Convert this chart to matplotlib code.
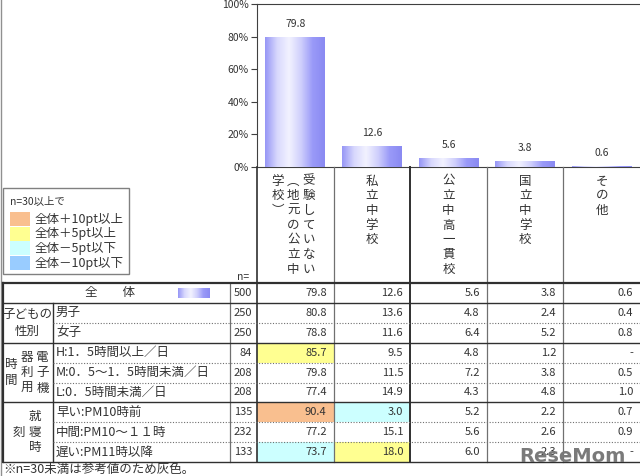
import matplotlib
matplotlib.use('Agg')
import matplotlib.pyplot as plt
import numpy as np
from matplotlib.patches import Rectangle
from matplotlib.colors import LinearSegmentedColormap

plt.rcParams['font.family'] = ['Noto Sans CJK JP', 'DejaVu Sans']

# --- data ---
categories = ['受験していない（地元の公立中学校）', '私立中学校', '公立中高一貫校', '国立中学校', 'その他']
# header text, written in vertical columns from right to left
header_cols = [['受験していない', '︵地元の公立中', '学校︶'],
               ['私立中学校'], ['公立中高一貫校'], ['国立中学校'], ['その他']]
overall_n = 500
overall = [79.8, 12.6, 5.6, 3.8, 0.6]

row_labels = ['男子', '女子',
              'H:1．5時間以上／日', 'M:0．5～1．5時間未満／日', 'L:0．5時間未満／日',
              '早い:PM10時前', '中間:PM10～１１時', '遅い:PM11時以降']
row_n = [250, 250, 84, 208, 208, 135, 232, 133]
row_values = [
    [80.8, 13.6, 4.8, 2.4, 0.4],
    [78.8, 11.6, 6.4, 5.2, 0.8],
    [85.7, 9.5, 4.8, 1.2, None],
    [79.8, 11.5, 7.2, 3.8, 0.5],
    [77.4, 14.9, 4.3, 4.8, 1.0],
    [90.4, 3.0, 5.2, 2.2, 0.7],
    [77.2, 15.1, 5.6, 2.6, 0.9],
    [73.7, 18.0, 6.0, 2.3, None],
]
# group label: horizontal text, or columns of vertical text (right to left)
groups = [('子どもの\n性別', None, 2),
          (None, ['電子機', '器利用', '時間'], 3),
          (None, ['就寝時', '刻'], 3)]

legend_title = 'n=30以上で'
legend_labels = ['全体＋10pt以上', '全体＋5pt以上', '全体－5pt以下', '全体－10pt以下']
legend_colors = ['#f9bf8f', '#ffff91', '#ccffff', '#99ccff']
footnote = '※n=30未満は参考値のため灰色。'


def highlight(v, base, n):
    if v is None or n < 30:
        return None
    d = v - base
    if d >= 10:
        return legend_colors[0]
    if d >= 5:
        return legend_colors[1]
    if d <= -10:
        return legend_colors[3]
    if d <= -5:
        return legend_colors[2]
    return None


W, H = 640, 476
X0, X1 = 257, 640
Y_TOP, Y_ZERO = 4, 167
CW = (X1 - X0) / len(overall)
TAB_TOP, RH = 283, 19.9
TXT = '#333333'

fig = plt.figure(figsize=(6.4, 4.76), dpi=100)

# --- bar chart ---
ax = fig.add_axes([X0 / W, 1 - Y_ZERO / H, (X1 - X0) / W, (Y_ZERO - Y_TOP) / H])
x = np.arange(len(overall))
bars = ax.bar(x, overall, width=0.78, color='#a8a8fb', linewidth=0, zorder=2)
cmap = LinearSegmentedColormap.from_list(
    'cyl', ['#9898f6', '#d8d8fd', '#f2f2ff', '#d0d0fc', '#9a9af8', '#8a8af2'])
grad = np.linspace(0, 1, 64).reshape(1, -1)
for b in bars:
    im = ax.imshow(grad, cmap=cmap, aspect='auto', zorder=3,
                   extent=(b.get_x(), b.get_x() + b.get_width(), 0, b.get_height()))
    im.set_clip_path(b)
for i, v in enumerate(overall):
    ax.text(i, v + 8, f'{v:.1f}', ha='center', va='center', fontsize=7.5, color=TXT)
ax.set_xlim(-0.5, len(overall) - 0.5)
ax.set_ylim(0, 100)
ax.set_yticks(range(0, 101, 20))
ax.set_yticklabels([f'{t}%' for t in range(0, 101, 20)])
ax.set_xticks([])
ax.tick_params(axis='y', labelsize=7.5, labelcolor=TXT, color='#404040', length=4, pad=2)
for s in ['left', 'top', 'bottom']:
    ax.spines[s].set_color('#404040')
ax.spines['right'].set_visible(False)
ax.set_facecolor('none')

# --- table overlay ---
tab = fig.add_axes([0, 0, 1, 1], facecolor='none')
tab.axis('off')

ce = [X0 + i * CW for i in range(len(overall) + 1)]
n_rows = 1 + len(row_labels)
ry = [TAB_TOP + i * RH for i in range(n_rows + 1)]
Y_END = ry[-1]

# header vertical text
for i, cols in enumerate(header_cols):
    cx = (ce[i] + ce[i + 1]) / 2
    k = len(cols)
    for j, col in enumerate(cols):
        tx = cx + ((k - 1) / 2 - j) * 15.5 - (2 if k > 1 else 0)
        for m, ch in enumerate(col):
            tab.text(tx, 181 + m * 14.7, ch, ha='center', va='center', fontsize=9, color=TXT)
tab.text(237, 277, 'n=', ha='left', va='center', fontsize=7.5, color=TXT)

# cell highlights
all_rows = [(overall_n, overall)] + list(zip(row_n, row_values))
for r, (n, vals) in enumerate(all_rows):
    if r == 0:
        continue
    for i, v in enumerate(vals):
        c = highlight(v, overall[i], n)
        if c:
            tab.add_patch(Rectangle((ce[i], ry[r]), CW, RH, facecolor=c, edgecolor='none', zorder=1))

# table values
for r, (n, vals) in enumerate(all_rows):
    yc = (ry[r] + ry[r + 1]) / 2
    tab.text(252, yc, str(n), ha='right', va='center', fontsize=8, color=TXT, zorder=3)
    for i, v in enumerate(vals):
        s = '-' if v is None else f'{v:.1f}'
        tab.text(ce[i + 1] - 7, yc, s, ha='right', va='center', fontsize=8, color=TXT, zorder=3)

# row labels
yc0 = (ry[0] + ry[1]) / 2
tab.text(110, yc0, '全　　体', ha='center', va='center', fontsize=9, color=TXT)
tab.imshow(grad, cmap=cmap, aspect='auto', extent=(178, 210, yc0 + 5, yc0 - 5), zorder=2)
for r, lab in enumerate(row_labels):
    yc = (ry[r + 1] + ry[r + 2]) / 2
    tab.text(56, yc, lab, ha='left', va='center', fontsize=9, color=TXT)

# group labels
start = 1
for text, vcols, size in groups:
    top, bot = ry[start], ry[start + size]
    gc = (top + bot) / 2
    if text is not None:
        tab.text(27, gc, text, ha='center', va='center', fontsize=9, color=TXT, linespacing=1.45)
    else:
        k = len(vcols)
        for j, col in enumerate(vcols):
            tx = 27 + ((k - 1) / 2 - j) * 15.5
            for m, ch in enumerate(col):
                ty = gc + (m - (len(col) - 1) / 2) * 15.5
                tab.text(tx, ty, ch, ha='center', va='center', fontsize=9, color=TXT)
    start += size

# lines
dark, grey = '#303030', '#707070'
tab.plot([1, 1], [0, H], color='#909090', lw=1)
tab.plot([X0, X0], [Y_ZERO, Y_END], color=dark, lw=1.2)
for i in range(1, len(ce) - 1):
    thick = (i == 2)
    tab.plot([ce[i], ce[i]], [Y_ZERO, Y_END], color=dark if thick else grey, lw=1.4 if thick else 0.9)
tab.plot([230, 230], [TAB_TOP, Y_END], color=grey, lw=0.9)
tab.plot([53, 53], [ry[1], Y_END], color=dark, lw=1)
tab.plot([3, 3], [TAB_TOP, Y_END], color=dark, lw=1.6)
tab.plot([3, W], [TAB_TOP, TAB_TOP], color=dark, lw=1.6)
solid = [1]
s = 1
for _, _, size in groups:
    s += size
    solid.append(s)
for r in range(1, n_rows + 1):
    if r in solid:
        tab.plot([3, W], [ry[r], ry[r]], color=dark, lw=1)
    else:
        tab.plot([53, W], [ry[r], ry[r]], color=grey, lw=0.8, ls=(0, (1, 1.5)))

# legend box
tab.add_patch(Rectangle((3, 188), 126, 86, facecolor='white', edgecolor='#808080', lw=1, zorder=2))
tab.text(10, 202, legend_title, ha='left', va='center', fontsize=7.5, color=TXT, zorder=3)
for k, (lab, c) in enumerate(zip(legend_labels, legend_colors)):
    yc = 219 + k * 14.7
    tab.add_patch(Rectangle((10, yc - 7), 20, 14, facecolor=c, edgecolor='none', zorder=3))
    tab.text(35, yc, lab, ha='left', va='center', fontsize=9, color=TXT, zorder=3)

tab.text(3, 469, footnote, ha='left', va='center', fontsize=9, color=TXT)

# watermark
tab.text(626, 462, 'ReseMom', ha='right', va='baseline', fontsize=14,
         family='DejaVu Sans', weight='bold', color='#7a7a7a', zorder=5)

tab.set_xlim(0, W)
tab.set_ylim(H, 0)

fig.savefig('out.png', dpi=100)
